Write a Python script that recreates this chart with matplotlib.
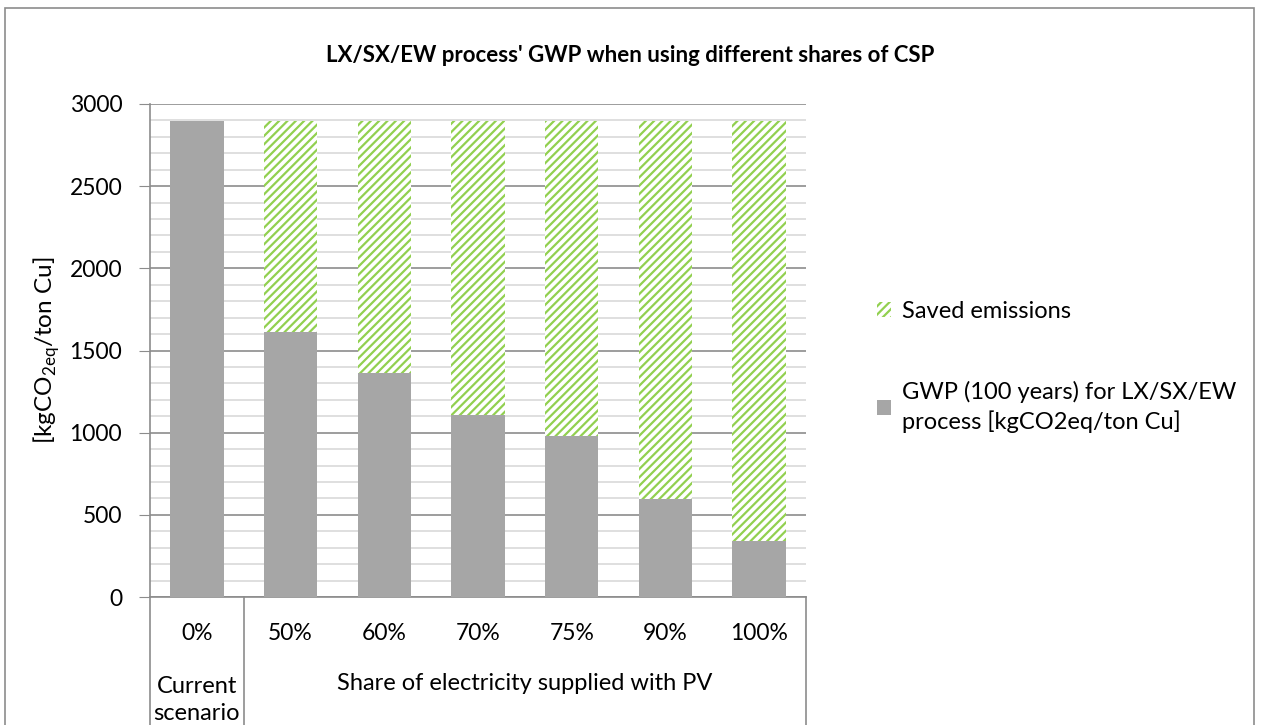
import numpy as np
import matplotlib
matplotlib.use("Agg")
import matplotlib.pyplot as plt
import matplotlib.transforms as mtransforms
from matplotlib.patches import Rectangle, Patch
from matplotlib.lines import Line2D

# data
shares = ["0%", "50%", "60%", "70%", "75%", "90%", "100%"]
gwp = [2895, 1615, 1363, 1106, 978, 594, 339]
total = [2895, 2895, 2895, 2895, 2895, 2895, 2895]
saved = [0 if i == 0 else t - g for i, (t, g) in enumerate(zip(total, gwp))]
groups = ["Current\nscenario", "Share of electricity supplied with PV"]

plt.rcParams['font.family'] = ['Lato', 'DejaVu Sans']
plt.rcParams['hatch.linewidth'] = 1.6

W, H = 1261, 725
fig = plt.figure(figsize=(W / 100, H / 100), dpi=100)
ax = fig.add_axes([150 / W, (H - 597) / H, (806 - 150) / W, (597 - 104) / H])

x = np.arange(len(shares))
grey = '#A6A6A6'
green = '#92D050'
ax.bar(x, gwp, width=0.57, color=grey, zorder=3)
ax.bar(x[1:], saved[1:], bottom=gwp[1:], width=0.57, color='white',
       edgecolor=green, linewidth=0, hatch='////', zorder=3)

ax.set_xlim(-0.5, len(shares) - 0.5)
ax.set_ylim(0, 3000)
ax.set_yticks(range(0, 3001, 500))
ax.set_yticks(range(0, 3001, 100), minor=True)
ax.grid(which='minor', axis='y', color='#D9D9D9', lw=1.2, zorder=0)
ax.grid(which='major', axis='y', color='#8C8C8C', lw=1.2, zorder=0)
ax.tick_params(axis='y', which='major', length=8, color='#8C8C8C', labelsize=16.5, pad=12)
ax.tick_params(axis='y', which='minor', length=0)
ax.set_xticks(x)
ax.set_xticklabels(shares)
ax.tick_params(axis='x', length=0, labelsize=16.5, pad=19)
for s in ['top', 'right']:
    ax.spines[s].set_visible(False)
ax.spines['left'].set_color('#8C8C8C')
ax.spines['bottom'].set_color('#8C8C8C')
ax.spines['left'].set_linewidth(1.2)
ax.spines['bottom'].set_linewidth(1.2)

ax.set_ylabel(r'[kgCO$_{\mathregular{2eq}}$/ton Cu]', fontsize=17.5)
ax.yaxis.set_label_coords(-(150 - 62) / 656, 0.5)

fig.text(630 / W, 1 - 55 / H, "LX/SX/EW process' GWP when using different shares of CSP",
         ha='center', va='center', fontsize=16, fontweight='bold')

# category group separators and labels below the axis
tr = mtransforms.blended_transform_factory(ax.transData, fig.transFigure)
for xv in [-0.5, 0.5, len(shares) - 0.5]:
    ax.add_line(Line2D([xv, xv], [0, (H - 597) / H], transform=tr, color='#8C8C8C',
                       lw=1.2, clip_on=False))
ax.text(0, 1 - 700 / H, groups[0], transform=tr, ha='center', va='center',
        fontsize=17, linespacing=1.35)
ax.text(3.5, 1 - 684 / H, groups[1], transform=tr, ha='center', va='center', fontsize=17)

# legend
handles = [Patch(facecolor='white', edgecolor=green, hatch='////', linewidth=0),
           Patch(facecolor=grey, linewidth=0)]
labels = ["Saved emissions", "GWP (100 years) for LX/SX/EW\nprocess [kgCO2eq/ton Cu]"]
leg = fig.legend(handles, labels, loc='upper left', bbox_to_anchor=(856 / W, 1 - 280 / H),
                 frameon=False, fontsize=17, handlelength=0.6, handleheight=0.6,
                 handletextpad=0.45, labelspacing=2.5)
for t in leg.get_texts():
    t.set_linespacing(1.35)

# outer chart border
fig.add_artist(Rectangle((5 / W, -0.01), 1249 / W, 1 - 8 / H + 0.01, transform=fig.transFigure,
                         fill=False, edgecolor='#8C8C8C', lw=1.2))

fig.savefig("out.png", dpi=100)
